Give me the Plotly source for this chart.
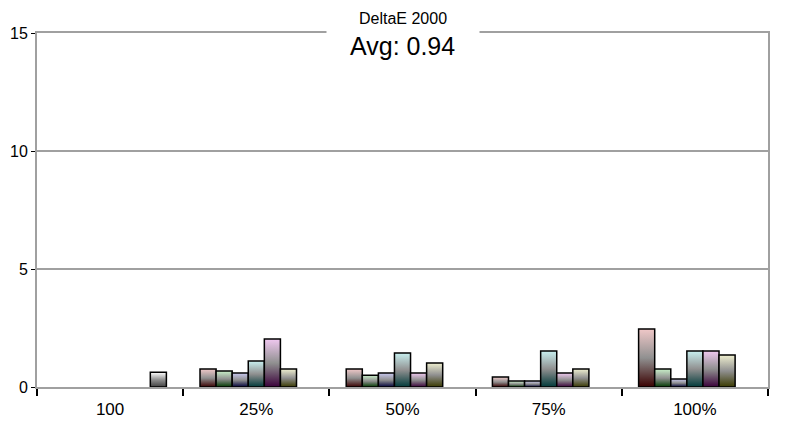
import plotly.graph_objects as go

# groups and series
groups = ["100", "25%", "50%", "75%", "100%"]
series = ["red", "green", "blue", "cyan", "magenta", "yellow", "gray"]
red = [0, 0.76, 0.76, 0.42, 2.46]
green = [0, 0.68, 0.50, 0.25, 0.76]
blue = [0, 0.59, 0.59, 0.25, 0.34]
cyan = [0, 1.10, 1.44, 1.53, 1.53]
magenta = [0, 2.03, 0.59, 0.59, 1.53]
yellow = [0, 0.76, 1.02, 0.76, 1.36]
gray = [0.62, 0, 0, 0, 0]
values = [red, green, blue, cyan, magenta, yellow, gray]

# dark bottom / light top per series
shades = {
    "red": ("#3a0000", "#f0c8c8"),
    "green": ("#003a00", "#c8f0c8"),
    "blue": ("#00003a", "#c8c8f0"),
    "cyan": ("#003a3a", "#c8f0f0"),
    "magenta": ("#3a003a", "#f0c8f0"),
    "yellow": ("#3a3a00", "#f0f0d0"),
    "gray": ("#404040", "#ffffff"),
}

fig = go.Figure()
bw = 0.11
for s, vals in zip(series, values):
    i = series.index(s)
    dark, light = shades[s]
    for g, v in enumerate(vals):
        if v <= 0:
            continue
        x0 = g + 0.115 + i * bw
        x1 = x0 + bw
        fig.add_trace(go.Scatter(
            x=[x0, x1, x1, x0, x0], y=[0, 0, v, v, 0],
            mode="lines", fill="toself",
            line=dict(color="black", width=1.5),
            fillgradient=dict(type="vertical",
                              colorscale=[[0, dark], [0.5, "#909090"], [1, light]]),
            showlegend=False, hoverinfo="skip"))

fig.update_layout(
    width=788, height=423,
    margin=dict(l=29, r=28, t=25, b=44, autoexpand=False),
    paper_bgcolor="white", plot_bgcolor="white",
    font=dict(family="Liberation Sans", size=16, color="black"),
    annotations=[
        dict(text="DeltaE 2000", x=0.5, y=1.0, xref="paper", yref="paper",
             yanchor="middle", yshift=15, showarrow=False, font=dict(size=16)),
        dict(text="", x=0.5, y=1.0, xref="paper", yref="paper", yanchor="middle",
             showarrow=False, bgcolor="white", width=150, height=6),
        dict(text="Avg: 0.94", x=0.5, y=1.0, xref="paper", yref="paper",
             yanchor="middle", yshift=-13, showarrow=False,
             font=dict(size=25)),
    ],
)
fig.update_xaxes(range=[0, 5], tickvals=[0.5, 1.5, 2.5, 3.5, 4.5], ticktext=groups,
                 ticks="", showgrid=False, zeroline=False, automargin=False,
                 showline=True, linecolor="#a0a0a0", linewidth=2, mirror=True,
                 ticklabelstandoff=6,
                 minor=dict(tick0=0, dtick=1, ticks="outside", ticklen=7,
                            tickcolor="black", tickwidth=1.5, showgrid=False),
                 tickfont=dict(size=17))
fig.update_yaxes(range=[0, 15], tickvals=[0, 5, 10, 15], ticks="outside", ticklen=4,
                 tickcolor="black", showgrid=True, gridcolor="#a0a0a0", gridwidth=2,
                 zeroline=False, showline=True, linecolor="#a0a0a0", linewidth=2,
                 mirror=True, automargin=False, tickfont=dict(size=16))

fig.write_html("out.html")
